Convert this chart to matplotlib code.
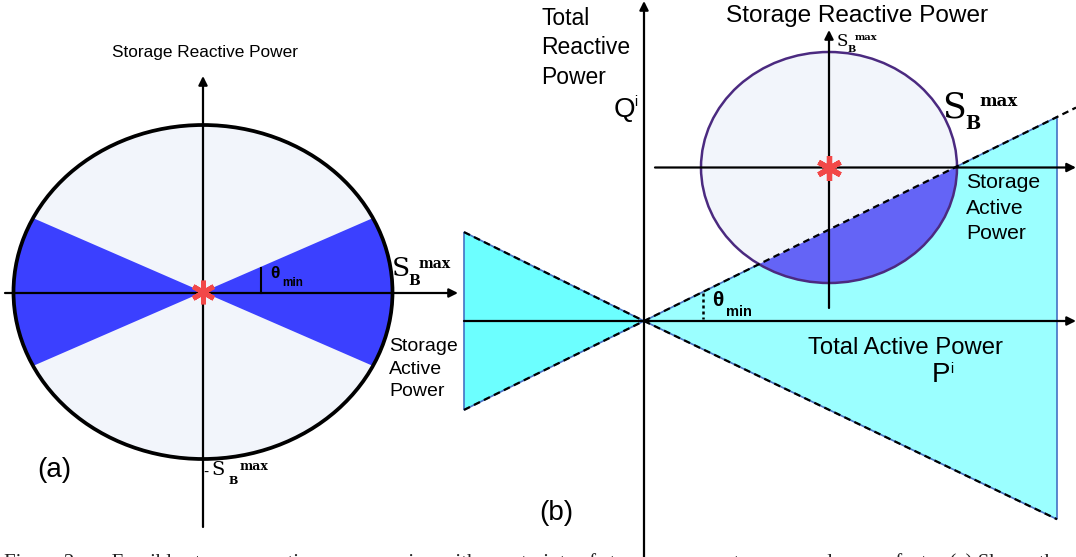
import matplotlib
matplotlib.use("Agg")
import matplotlib.pyplot as plt
from matplotlib.patches import Ellipse, Polygon

# ---------------- data (diagram geometry, pixel units) -------------
# panel (a): storage capability ellipse
a_center = (203, 292)
a_half_axes = (189.5, 167)
a_slope = 0.435            # tan(theta_min) of the power-factor wedge
# panel (b): total power plane
b_origin = (644, 321)
b_cone_right_x = 1057
b_cone_left_x = 464
b_upper_slope = 0.494
b_lower_slope = 0.48
b_circle_center = (829, 167.5)
b_circle_half_axes = (128, 115.5)

# text labels
lbl_storage_q = "Storage Reactive Power"
lbl_storage_p = "Storage\nActive\nPower"
lbl_total_q = "Total\nReactive\nPower"
lbl_total_p = "Total Active Power"
caption = ("Figure 2:      Feasible storage reactive power region with constraints of storage "
           "apparent power and power factor (a) Shows the")

# ---------------- figure in pixel coordinates ----------------
W, H = 1076, 557
fig = plt.figure(figsize=(W / 100, H / 100), dpi=100)
ax = fig.add_axes([0, 0, 1, 1])
ax.set_xlim(0, W)
ax.set_ylim(H, 0)
ax.axis("off")

SANS = "Liberation Sans"
SERIF = "DejaVu Serif"
LIGHT = "#F2F5FB"
BLUE_A = "#3B40FF"
BLUE_B = "#6464F6"
CYAN_R = "#9BFFFF"
CYAN_L = "#6CFFFF"
EDGE_B = "#4472C4"
RED = "#F24848"


def arrow(x0, y0, x1, y1, lw=1.6):
    ax.annotate("", xy=(x1, y1), xytext=(x0, y0),
                arrowprops=dict(arrowstyle="-|>", lw=lw, color="black",
                                mutation_scale=13, shrinkA=0, shrinkB=0),
                zorder=8)


def sbmax(x, y, s_size, sub_size, sup_size, dx_b, dy_b, dx_m, dy_m, dash=False):
    if dash:
        ax.text(x - 8, y + 2, "-", fontsize=s_size * 0.8, family=SANS, ha="left", va="center", zorder=10)
    ax.text(x, y, "S", fontsize=s_size, family=SERIF, ha="left", va="center", zorder=10)
    ax.text(x + dx_b, y + dy_b, "B", fontsize=sub_size, family=SERIF, weight="bold",
            ha="left", va="center", zorder=10)
    ax.text(x + dx_m, y + dy_m, "max", fontsize=sup_size, family=SERIF, weight="bold",
            ha="left", va="center", zorder=10)


# ================= panel (a) =================
cx, cy = a_center
ea, eb = a_half_axes
ell_a = Ellipse((cx, cy), 2 * ea, 2 * eb, facecolor=LIGHT, edgecolor="none", zorder=1)
ax.add_patch(ell_a)
for sgn in (1, -1):
    xe = cx + sgn * (ea + 20)
    wedge = Polygon([(cx, cy), (xe, cy - a_slope * (ea + 20)), (xe, cy + a_slope * (ea + 20))],
                    closed=True, facecolor=BLUE_A, edgecolor="none", zorder=2)
    ax.add_patch(wedge)
    wedge.set_clip_path(ell_a)
ax.add_patch(Ellipse((cx, cy), 2 * ea, 2 * eb, facecolor="none", edgecolor="black",
                     lw=2.7, zorder=4))

arrow(cx, 527, cx, 76)
arrow(5, cy + 1, 458, cy + 1)
ax.plot([261, 261], [268, cy + 1], color="black", lw=1.5, zorder=8)
ax.plot([cx], [cy], marker=(6, 2, 0), markersize=17, mew=3.6, color=RED, zorder=9)

ax.text(205, 52, lbl_storage_q, fontsize=12.4, family=SANS, ha="center", va="center")
ax.text(270, 273, "θ", fontsize=12.5, family=SANS, weight="bold", ha="left", va="center", zorder=10)
ax.text(282, 283, "min", fontsize=8.5, family=SANS, weight="bold", ha="left", va="center", zorder=10)
sbmax(392, 268, 19, 10, 10, 16, 13, 27, -4)
ax.text(389, 369, lbl_storage_p, fontsize=14, family=SANS, ha="left", va="center",
        linespacing=1.4, zorder=10)
ax.text(37, 470, "(a)", fontsize=20, family=SANS, ha="left", va="center")
sbmax(211, 470, 14, 8, 9, 18, 10, 29, -4, dash=True)

# ================= panel (b) =================
ox, oy = b_origin
r_top = oy - b_upper_slope * (b_cone_right_x - ox)
r_bot = oy + b_lower_slope * (b_cone_right_x - ox)
l_top = oy - b_upper_slope * (ox - b_cone_left_x)
l_bot = oy + b_upper_slope * (ox - b_cone_left_x)

ax.add_patch(Polygon([(ox, oy), (b_cone_right_x, r_top), (b_cone_right_x, r_bot)],
                     closed=True, facecolor=CYAN_R, edgecolor=EDGE_B, lw=1.2, zorder=1))
ax.add_patch(Polygon([(ox, oy), (b_cone_left_x, l_top), (b_cone_left_x, l_bot)],
                     closed=True, facecolor=CYAN_L, edgecolor=EDGE_B, lw=1.2, zorder=1))

ccx, ccy = b_circle_center
ca, cb = b_circle_half_axes
ell_b = Ellipse((ccx, ccy), 2 * ca, 2 * cb, facecolor=LIGHT, edgecolor="none", zorder=2)
ax.add_patch(ell_b)
x0, x1 = ccx - ca - 10, ccx + ca + 10
seg = Polygon([(x0, oy - b_upper_slope * (x0 - ox)), (x1, oy - b_upper_slope * (x1 - ox)),
               (x1, ccy + cb + 10), (x0, ccy + cb + 10)],
              closed=True, facecolor=BLUE_B, edgecolor="none", zorder=3)
ax.add_patch(seg)
seg.set_clip_path(ell_b)
ax.add_patch(Ellipse((ccx, ccy), 2 * ca, 2 * cb, facecolor="none", edgecolor="#4B2A80",
                     lw=1.8, zorder=4))

# dashed boundary lines
xe = 1076
ax.plot([ox, xe], [oy, oy - b_upper_slope * (xe - ox)], color="black", lw=1.6,
        ls=(0, (3, 2)), zorder=6)
ax.plot([ox, b_cone_right_x], [oy, r_bot], color="black", lw=1.6, ls=(0, (3, 2)), zorder=6)
ax.plot([b_cone_left_x, ox], [l_top, oy], color="black", lw=1.6, ls=(0, (3, 2)), zorder=6)
ax.plot([b_cone_left_x, ox], [l_bot, oy], color="black", lw=1.6, ls=(0, (3, 2)), zorder=6)

arrow(ox, 557, ox, 1)
arrow(b_cone_left_x, oy, 1076, oy)
arrow(ccx, 308, ccx, 30)
arrow(655, ccy, 1076, ccy)
ax.plot([703, 703], [293, oy - 2], color="black", lw=1.8, ls=(0, (1.2, 1.2)), zorder=8)
ax.plot([ccx], [ccy], marker=(6, 2, 0), markersize=18, mew=3.8, color=RED, zorder=9)

ax.text(857, 16, lbl_storage_q, fontsize=17.6, family=SANS, ha="center", va="center")
ax.text(541, 48, lbl_total_q, fontsize=16.5, family=SANS, ha="left", va="center", linespacing=1.36)
ax.text(614, 110, "Q", fontsize=20, family=SANS, ha="left", va="center")
ax.text(634, 102, "i", fontsize=10, family=SANS, ha="left", va="center")
sbmax(837, 41, 12, 7, 7, 11, 9, 18, -4)
sbmax(942, 107, 25, 13, 12, 23, 17, 37, -6)
ax.text(966, 208, lbl_storage_p, fontsize=15.2, family=SANS, ha="left", va="center",
        linespacing=1.45, zorder=10)
ax.text(712, 301, "θ", fontsize=15, family=SANS, weight="bold", ha="left", va="center", zorder=10)
ax.text(726, 312, "min", fontsize=10.5, family=SANS, weight="bold", ha="left", va="center", zorder=10)
ax.text(808, 348, lbl_total_p, fontsize=17.2, family=SANS, ha="left", va="center", zorder=10)
ax.text(932, 375, "P", fontsize=20, family=SANS, ha="left", va="center", zorder=10)
ax.text(950, 369, "i", fontsize=10, family=SANS, ha="left", va="center", zorder=10)
ax.text(539, 513, "(b)", fontsize=20, family=SANS, ha="left", va="center")

# partially visible caption at the bottom edge
ax.text(4, 563, caption, fontsize=15, family="Liberation Serif", ha="left", va="center",
        color="#222222")

fig.savefig("out.png", dpi=100)
